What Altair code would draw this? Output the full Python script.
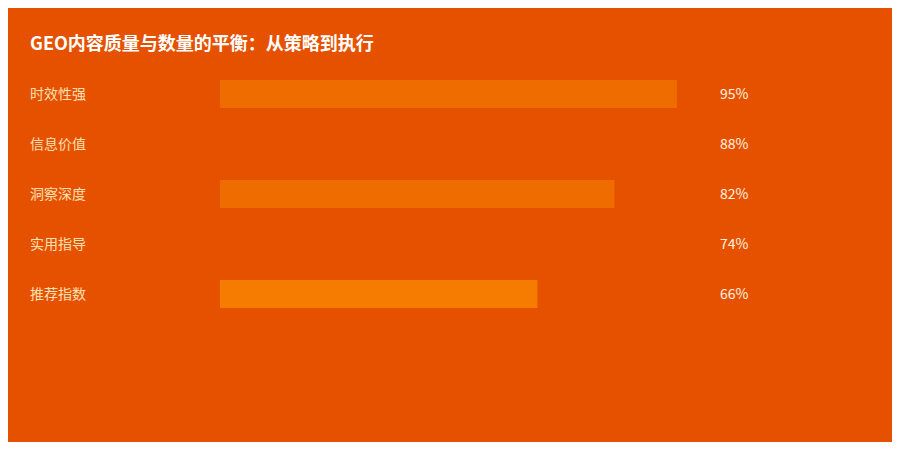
import altair as alt
import pandas as pd

title_text = "GEO内容质量与数量的平衡：从策略到执行"
categories = ["时效性强", "信息价值", "洞察深度", "实用指导", "推荐指数"]
values = [95, 88, 82, 74, 66]
bar_colors = ["#EF6C00", "#E65100", "#EF6C00", "#E65100", "#F57C00"]
value_labels = [f"{v}%" for v in values]

BG = "#E65100"
FONT = "Noto Sans CJK SC"

df = pd.DataFrame({"cat": categories, "value": values, "label": value_labels})

yscale = alt.Scale(domain=categories, range=[61, 311], paddingInner=0.44, paddingOuter=0.22)
xscale = alt.Scale(domain=[0, 100], range=[212, 693])

base = alt.Chart(df)

bars = base.mark_bar(height=28).encode(
    x=alt.X("value:Q", scale=xscale, axis=None),
    y=alt.Y("cat:N", scale=yscale, axis=None, sort=categories),
    color=alt.Color("cat:N", scale=alt.Scale(domain=categories, range=bar_colors), legend=None),
)

cat_text = base.mark_text(align="left", baseline="middle", dy=1, fontSize=14, font=FONT, color="#FFE0B2").encode(
    x=alt.value(22),
    y=alt.Y("cat:N", scale=yscale, axis=None, sort=categories),
    text="cat:N",
)

val_text = base.mark_text(align="left", baseline="middle", dy=1, fontSize=14, font=FONT, color="#FFF3E0").encode(
    x=alt.value(712),
    y=alt.Y("cat:N", scale=yscale, axis=None, sort=categories),
    text="label:N",
)

title = alt.Chart(pd.DataFrame({"t": [title_text]})).mark_text(
    align="left", baseline="middle", fontSize=18, fontWeight="bold", font=FONT, color="#FFFFFF"
).encode(x=alt.value(22), y=alt.value(37), text="t:N")

chart = alt.layer(bars, cat_text, val_text, title).properties(
    width=884, height=434, background=BG, padding=0,
    autosize=alt.AutoSizeParams(type="none"),
).configure_view(stroke=None)

chart.save("out.html", embed_options={"renderer": "svg", "actions": False})
